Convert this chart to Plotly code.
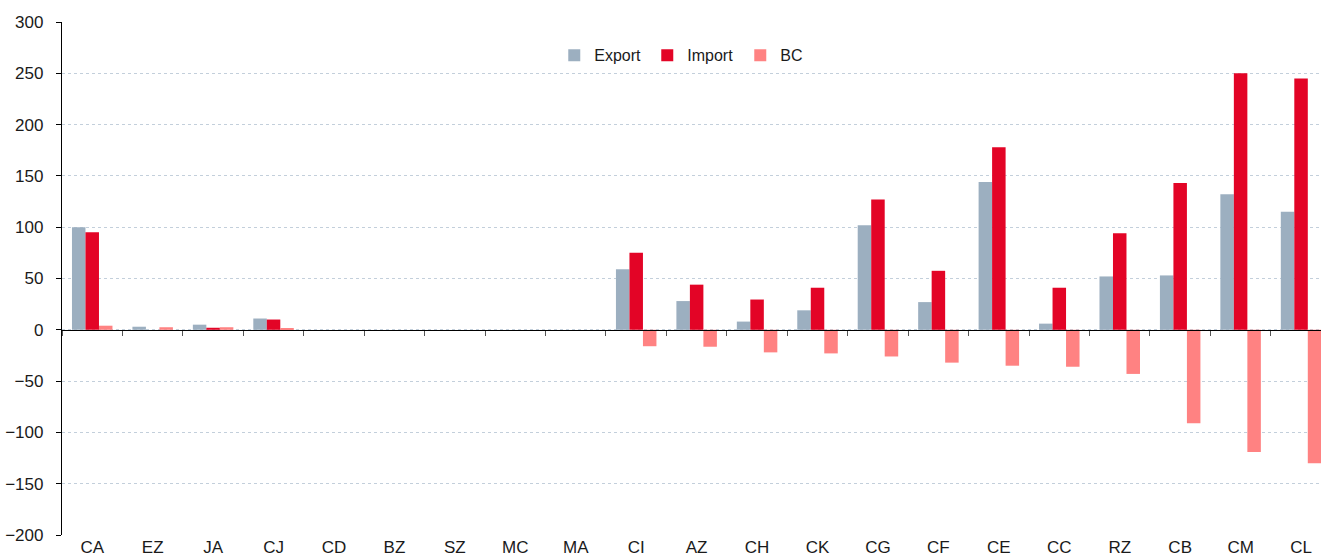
import plotly.graph_objects as go

categories = ["CA", "EZ", "JA", "CJ", "CD", "BZ", "SZ", "MC", "MA", "CI", "AZ",
              "CH", "CK", "CG", "CF", "CE", "CC", "RZ", "CB", "CM", "CL"]
export_vals = [100, 3, 5, 11, 0, 0, 0, 0, 0, 59, 28, 8, 19, 102, 27, 144, 6, 52, 53, 132, 115]
import_vals = [95, 0, 2, 10, 0, 0, 0, 0, 0, 75, 44, 29.5, 41, 127, 57.5, 178, 41, 94, 143, 250, 245]
bc_vals = [4, 2.5, 2.5, 0.8, 0, 0, 0, 0, 0, -16, -16.5, -22, -23, -26, -32, -35, -36, -43, -91, -119, -130]
y_ticks = [-200, -150, -100, -50, 0, 50, 100, 150, 200, 250, 300]

FONT = "Liberation Sans, Arial, Helvetica, sans-serif"

fig = go.Figure()
fig.add_bar(x=categories, y=export_vals, name="Export", marker_color="#9CAFC0",
            marker_line_width=0)
fig.add_bar(x=categories, y=import_vals, name="Import", marker_color="#E30426",
            marker_line_width=0)
fig.add_bar(x=categories, y=bc_vals, name="BC", marker_color="#FF8282",
            marker_line_width=0)

# invisible helper trace for the zero-line axis with boundary ticks
fig.add_scatter(x=[0], y=[0], xaxis="x2", mode="markers", marker_opacity=0,
                showlegend=False, hoverinfo="skip")

n = len(categories)
x_range = [-0.5, 20.33]

fig.update_layout(
    width=1321, height=558,
    margin=dict(l=62, r=0, t=22, b=23, autoexpand=False),
    paper_bgcolor="white", plot_bgcolor="white",
    barmode="group", bargap=0.33, bargroupgap=0,
    font=dict(family=FONT, size=17, color="#1a1a1a"),
    legend=dict(orientation="h", x=0.391, xanchor="left", y=0.935, yanchor="middle",
                font=dict(size=16, color="#1a1a1a"), itemwidth=30,
                entrywidth=48, bgcolor="rgba(0,0,0,0)", traceorder="normal"),
    xaxis=dict(type="category", range=x_range, showline=False, ticks="",
               showgrid=False, zeroline=False, tickfont=dict(size=17),
               ticklabelstandoff=0),
    xaxis2=dict(overlaying="x", anchor="free", position=0.4, type="linear",
                range=x_range, showline=True, linecolor="black", linewidth=1.3,
                tickvals=[i - 0.5 for i in range(n + 1)], ticks="outside",
                ticklen=5, tickcolor="#555", tickwidth=1, showticklabels=False,
                showgrid=False, zeroline=False),
    yaxis=dict(range=[-200, 300], tickvals=y_ticks, showline=True,
               linecolor="black", linewidth=1.3, ticks="outside", ticklen=5,
               tickcolor="black", showgrid=True, gridcolor="#c3cfdb",
               griddash="dot", gridwidth=1, zeroline=False,
               tickfont=dict(size=17), ticklabelstandoff=9),
)

fig.write_html("out.html", config={"displayModeBar": False},
               post_script="document.body.style.margin='0';")
